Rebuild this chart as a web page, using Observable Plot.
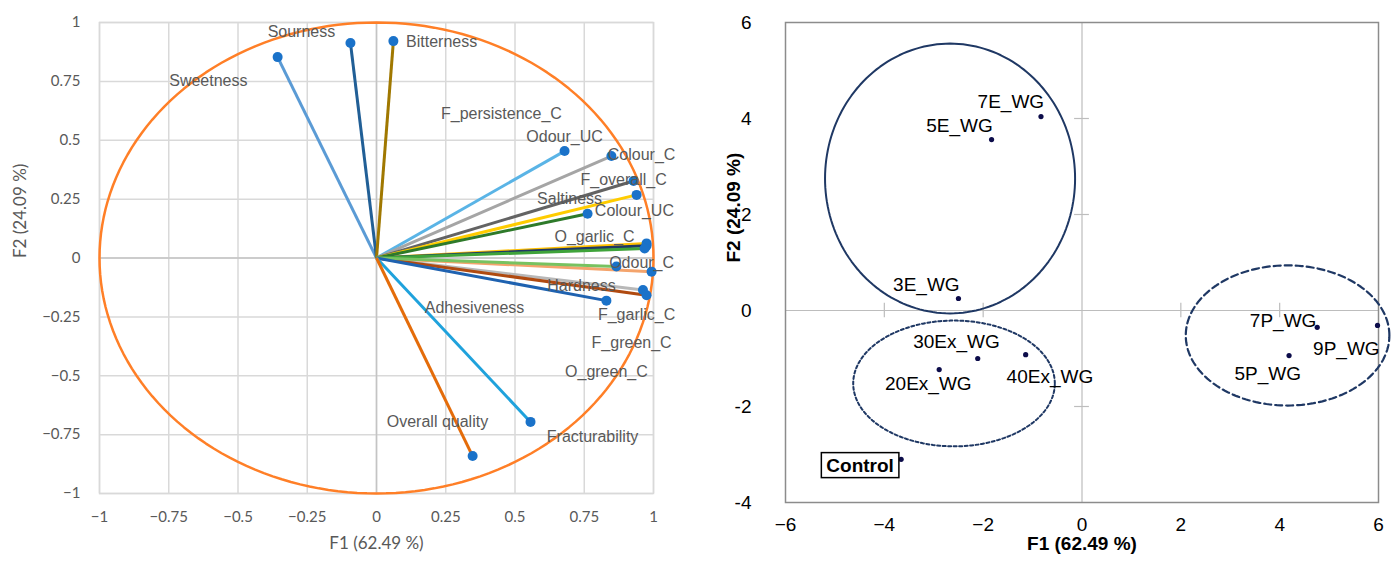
<!DOCTYPE html>
<html><head><meta charset="utf-8">
<script src="https://cdn.jsdelivr.net/npm/d3@7"></script>
<script src="https://cdn.jsdelivr.net/npm/@observablehq/plot@0.6"></script>
<style>
body{margin:0;background:#fff;}
#wrap{position:relative;width:1395px;height:566px;overflow:hidden;}
#left{position:absolute;left:0;top:0;}
#right{position:absolute;left:700px;top:0;}
</style></head><body><div id="wrap"><div id="left"></div><div id="right"></div></div>
<script>
// ---------- Left panel: variables (correlation circle) ----------
const varNames = ["Sweetness","Sourness","Bitterness","F_persistence_C","Odour_UC","Colour_C","F_overall_C","Saltiness","Colour_UC","O_garlic_C","Odour_C","Hardness","F_garlic_C","F_green_C","O_green_C","Adhesiveness","Fracturability","Overall quality"];
const varF1 = [-0.357,-0.094,0.061,0.975,0.679,0.848,0.928,0.939,0.762,0.975,0.993,0.962,0.975,0.968,0.866,0.830,0.556,0.347];
const varF2 = [0.853,0.913,0.921,0.062,0.454,0.433,0.327,0.268,0.188,0.052,-0.058,-0.136,-0.158,0.040,-0.036,-0.181,-0.696,-0.841];
// label anchor positions (data units)
const labelF1 = [-0.607,-0.271,0.235,0.451,0.679,0.957,0.892,0.697,0.931,0.787,0.957,0.740,0.939,0.921,0.830,0.354,0.780,0.220];
const labelF2 = [0.752,0.960,0.917,0.611,0.514,0.437,0.331,0.251,0.200,0.089,-0.021,-0.119,-0.242,-0.361,-0.484,-0.212,-0.760,-0.696];
const lineColors = ["#5b9bd5","#215f96","#a07800","#ffc000","#5ab4e6","#a5a5a5","#636363","#ffcc00","#2e7a2a","#203864","#f4a46c","#b8b8b8","#b04a10","#3fa33a","#78c260","#1f62b0","#1fa2dc","#e46c0a"];
const ticksLeft = [-1,-0.75,-0.5,-0.25,0,0.25,0.5,0.75,1];

// ---------- Right panel: observations ----------
const obsNames = ["7E_WG","5E_WG","3E_WG","30Ex_WG","40Ex_WG","20Ex_WG","Control","7P_WG","9P_WG","5P_WG"];
const obsF1 = [-0.83,-1.83,-2.50,-2.11,-1.14,-2.89,-3.66,4.76,5.98,4.19];
const obsF2 = [4.04,3.56,0.25,-1.00,-0.92,-1.23,-3.10,-0.35,-0.31,-0.94];
const obsLabelF1 = [-1.44,-2.48,-3.15,-2.54,-0.65,-3.11,-4.49,4.07,5.35,3.76];
const obsLabelF2 = [4.35,3.85,0.54,-0.65,-1.375,-1.52,-3.23,-0.21,-0.79,-1.33];
// group ellipses: centre and radii in data units
const groupNames = ["E","Ex","P"];
const groupCx = [-2.67,-2.59,4.16];
const groupCy = [2.75,-1.52,-0.52];
const groupRx = [2.53,2.04,2.06];
const groupRy = [2.81,1.31,1.46];
const ticksRightX = [-6,-4,-2,0,2,4,6];
const ticksRightY = [-4,-2,0,2,4,6];

// ---------- build ----------
const fmtMinus = d => (d < 0 ? "\u2212" : "") + String(Math.abs(d));
const vars = varNames.map((name,i)=>({name, f1:varF1[i], f2:varF2[i], lx:labelF1[i], ly:labelF2[i], color:lineColors[i]}));
const circle = d3.range(0,361,2).map(a=>({x:Math.cos(a*Math.PI/180), y:Math.sin(a*Math.PI/180)}));

const left = Plot.plot({
  width:700, height:566,
  marginLeft:99, marginRight:47, marginTop:22, marginBottom:73,
  x:{domain:[-1,1]}, y:{domain:[-1,1]},
  color:{type:"identity"},
  style:{fontFamily:"Lato", fontSize:"15px", color:"#595959", background:"#fff"},
  marks:[
    Plot.gridX(ticksLeft,{stroke:"#d9d9d9", strokeOpacity:1, strokeWidth:1.5}),
    Plot.gridY(ticksLeft,{stroke:"#d9d9d9", strokeOpacity:1, strokeWidth:1.5}),
    Plot.ruleX([0],{stroke:"#c4c4c4", strokeWidth:1.5}),
    Plot.ruleY([0],{stroke:"#c4c4c4", strokeWidth:1.5}),
    Plot.frame({stroke:"#d9d9d9", strokeWidth:1.5}),
    Plot.line(circle,{x:"x", y:"y", stroke:"#ff7f27", strokeWidth:2.5}),
    Plot.link(vars,{x1:0, y1:0, x2:"f1", y2:"f2", stroke:"color", strokeWidth:3}),
    Plot.dot(vars,{x:"f1", y:"f2", r:5, fill:"#1a72c9"}),
    Plot.text(vars,{x:"lx", y:"ly", text:"name", fill:"#595959", fontSize:16, fontFamily:"Liberation Sans"}),
    Plot.axisX(ticksLeft,{tickSize:0, tickPadding:18, label:null, fill:"#595959", tickFormat:fmtMinus}),
    Plot.axisY(ticksLeft,{tickSize:0, tickPadding:19, label:null, fill:"#595959", tickFormat:fmtMinus}),
    Plot.text(["F1 (62.49 %)"],{frameAnchor:"bottom", dy:55, text:d=>d, fontSize:17, fill:"#595959"}),
    Plot.text(["F2 (24.09 %)"],{frameAnchor:"left", dx:-79, rotate:-90, text:d=>d, fontSize:17, fill:"#595959"})
  ]
});
document.getElementById("left").appendChild(left);

const obs = obsNames.map((name,i)=>({name, f1:obsF1[i], f2:obsF2[i], lx:obsLabelF1[i], ly:obsLabelF2[i]}));
const ellipse = g => d3.range(0,361,2).map(a=>({x:groupCx[g]+groupRx[g]*Math.cos(a*Math.PI/180), y:groupCy[g]+groupRy[g]*Math.sin(a*Math.PI/180)}));
const tx = ticksRightX.filter(d=>d!==0 && Math.abs(d)<6);
const ty = ticksRightY.filter(d=>d!==0 && d<6 && d>-4);

const right = Plot.plot({
  width:695, height:566,
  marginLeft:85, marginRight:17, marginTop:22, marginBottom:64,
  x:{domain:[-6,6]}, y:{domain:[-4,6]},
  style:{fontFamily:"Liberation Sans", fontSize:"19px", color:"#000", background:"#fff", overflow:"visible"},
  marks:[
    Plot.ruleX([0],{stroke:"#bdbdbd", strokeWidth:1.2}),
    Plot.ruleY([0],{stroke:"#bdbdbd", strokeWidth:1.2}),
    Plot.ruleX(tx,{y1:-0.15, y2:0.15, stroke:"#bdbdbd", strokeWidth:1.2}),
    Plot.ruleY(ty,{x1:-0.15, x2:0.15, stroke:"#bdbdbd", strokeWidth:1.2}),
    Plot.frame({stroke:"#8c8c8c", strokeWidth:1.5}),
    Plot.line(ellipse(0),{x:"x", y:"y", stroke:"#1f3864", strokeWidth:2}),
    Plot.line(ellipse(1),{x:"x", y:"y", stroke:"#1f3864", strokeWidth:2, strokeDasharray:"3,2.5"}),
    Plot.line(ellipse(2),{x:"x", y:"y", stroke:"#1f3864", strokeWidth:2.2, strokeDasharray:"7,4"}),
    Plot.dot(obs,{x:"f1", y:"f2", r:2.6, fill:"#0c0c4a"}),
    Plot.text(obs.filter(d=>d.name!=="Control"),{x:"lx", y:"ly", text:"name", fill:"#000", fontSize:19}),
    Plot.text(obs.filter(d=>d.name==="Control"),{x:"lx", y:"ly", text:"name", fill:"#000", fontSize:19, fontWeight:"bold"}),
    Plot.axisX(ticksRightX,{tickSize:0, tickPadding:15, label:null, fill:"#000", tickFormat:fmtMinus}),
    Plot.axisY(ticksRightY,{tickSize:0, tickPadding:34, label:null, fill:"#000", tickFormat:d=>String(d)}),
    Plot.text(["F1 (62.49 %)"],{frameAnchor:"bottom", dy:47, text:d=>d, fontSize:19, fontWeight:"bold", fill:"#000"}),
    Plot.text(["F2 (24.09 %)"],{frameAnchor:"left", dx:-52, rotate:-90, text:d=>d, fontSize:19, fontWeight:"bold", fill:"#000"})
  ]
});
document.getElementById("right").appendChild(right);

// box around the "Control" label
d3.select(right).selectAll("text").filter(function(){return this.textContent==="Control";}).each(function(){
  const b = this.getBBox();
  const pad = 5;
  const rect = document.createElementNS("http://www.w3.org/2000/svg","rect");
  rect.setAttribute("x", b.x - pad); rect.setAttribute("y", b.y - 2);
  rect.setAttribute("width", b.width + 2*pad); rect.setAttribute("height", b.height + 4);
  rect.setAttribute("fill","#fff"); rect.setAttribute("stroke","#000"); rect.setAttribute("stroke-width","1.5");
  const t = this.getAttribute("transform"); if (t) rect.setAttribute("transform", t);
  this.parentNode.insertBefore(rect, this);
});
</script></body></html>
